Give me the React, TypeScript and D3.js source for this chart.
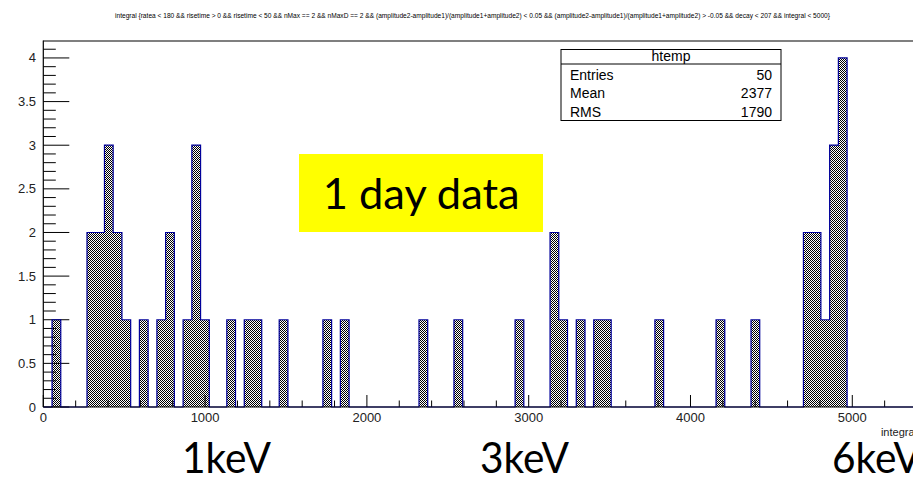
import React from "react";
import * as d3 from "d3";

// Histogram "htemp": lower edges of the filled bins and their contents
const binWidth = 54;
const binLow = [
  54, 270, 324, 378, 432, 486, 594, 702, 756, 864, 918, 972, 1134, 1242, 1296,
  1458, 1728, 1836, 2322, 2538, 2916, 3132, 3186, 3294, 3402, 3456, 3780, 4158,
  4374, 4698, 4752, 4806, 4860, 4914,
];
const binCount = [
  1, 2, 2, 3, 2, 1, 1, 1, 2, 1, 3, 1, 1, 1, 1, 1, 1, 1, 1, 1, 1, 2, 1, 1, 1, 1,
  1, 1, 1, 2, 2, 1, 3, 4,
];

const xDomain = [0, 5400];
const yDomain = [0, 4.2];
const xMajorTicks = [0, 1000, 2000, 3000, 4000, 5000];
const yMajorTicks = [0, 0.5, 1, 1.5, 2, 2.5, 3, 3.5, 4];

const statLabels = ["Entries", "Mean", "RMS"];
const statValues = ["50", "2377", "1790"];

const title =
  "integral {ratea < 180 && risetime > 0 && risetime < 50 && nMax == 2 && nMaxD == 2 && (amplitude2-amplitude1)/(amplitude1+amplitude2) < 0.05 && (amplitude2-amplitude1)/(amplitude1+amplitude2) > -0.05 && decay < 207 && integral < 5000}";

const energyLabels = ["1keV", "3keV", "6keV"];
const energyX = [182, 480, 832];

const W = 913;
const H = 477;
const AXIS_FONT = "'Liberation Sans', Arial, sans-serif";
const BIG_FONT = "Lato, 'Open Sans', sans-serif";

export default function App() {
  const x = d3.scaleLinear().domain(xDomain).range([43.3, 917]);
  const y = d3.scaleLinear().domain(yDomain).range([407, 40.5]);

  // full set of bins, empty ones included, so the outline runs along the baseline
  const nBins = Math.round((xDomain[1] - xDomain[0]) / binWidth);
  const counts = new Array(nBins).fill(0);
  binLow.forEach((lo, i) => {
    counts[Math.round((lo - xDomain[0]) / binWidth)] = binCount[i];
  });
  const pts: [number, number][] = [[xDomain[0], 0]];
  counts.forEach((c, i) => pts.push([xDomain[0] + i * binWidth, c]));
  pts.push([xDomain[1], 0]);

  const area = d3
    .area<[number, number]>()
    .x((d) => x(d[0]))
    .y0(y(0))
    .y1((d) => y(d[1]))
    .curve(d3.curveStepAfter);
  const line = d3
    .line<[number, number]>()
    .x((d) => x(d[0]))
    .y((d) => y(d[1]))
    .curve(d3.curveStepAfter);

  const xMinor = d3.range(0, xDomain[1] + 1, 200);
  const yMinor = d3.range(0, 42, 1).map((v) => v / 10);

  return (
    <div style={{ position: "fixed", left: 0, top: 0 }}>
      <svg width={W} height={H} style={{ display: "block", background: "#fff" }}>
        <defs>
          <pattern id="hfill" x={0} y={0} width={2} height={2} patternUnits="userSpaceOnUse">
            <path d="M0 0h1v1h-1zM1 1h1v1h-1z" fill="#000" shapeRendering="crispEdges" />
          </pattern>
        </defs>

        <text
          x={115}
          y={18}
          fontFamily={AXIS_FONT}
          fontSize={7}
          textLength={715}
          lengthAdjust="spacingAndGlyphs"
          fill="#000"
        >
          {title}
        </text>

        {/* frame */}
        <line x1={43.3} x2={W} y1={41} y2={41} stroke="#555" strokeWidth={1.6} />

        {/* axis ticks (under the histogram fill) */}
        <g stroke="#000" strokeWidth={1}>
          {xMinor.map((v) => {
            const major = v % 1000 === 0;
            return (
              <line
                key={"xt" + v}
                x1={x(v)}
                x2={x(v)}
                y1={407}
                y2={407 - (major ? 12 : 6.5)}
              />
            );
          })}
          {yMinor.map((v) => {
            const major = Math.abs(v * 2 - Math.round(v * 2)) < 1e-6;
            return (
              <line
                key={"yt" + v}
                x1={43.3}
                x2={43.3 + (major ? 26 : 12.5)}
                y1={y(v)}
                y2={y(v)}
              />
            );
          })}
        </g>

        {/* histogram */}
        <path d={area(pts) || ""} fill="url(#hfill)" shapeRendering="crispEdges" />
        <path d={line(pts) || ""} fill="none" stroke="#00009a" strokeWidth={1.2} />

        {/* axes */}
        <line x1={43.3} x2={W} y1={407} y2={407} stroke="#000" strokeWidth={1.2} />
        <line x1={43.3} x2={43.3} y1={40.5} y2={407} stroke="#000" strokeWidth={1.2} />

        <g fontFamily={AXIS_FONT} fontSize={13} fill="#222">
          {xMajorTicks.map((v) => (
            <text key={"xl" + v} x={x(v)} y={421.5} textAnchor="middle">
              {v}
            </text>
          ))}
          {yMajorTicks.map((v) => (
            <text key={"yl" + v} x={36} y={y(v) + 4.5} textAnchor="end">
              {v}
            </text>
          ))}
        </g>
        <text x={917} y={436} textAnchor="end" fontFamily={AXIS_FONT} fontSize={11} fill="#222">
          integral
        </text>

        {/* statistics box */}
        <g fontFamily={AXIS_FONT} fontSize={14} fill="#000">
          <rect x={561} y={49.5} width={220} height={71} fill="#fff" stroke="#000" strokeWidth={1} />
          <line x1={561} x2={781} y1={64} y2={64} stroke="#000" strokeWidth={1} />
          <text x={671} y={61} textAnchor="middle">
            htemp
          </text>
          {statLabels.map((s, i) => (
            <g key={s}>
              <text x={570} y={80 + i * 18.3}>
                {s}
              </text>
              <text x={772} y={80 + i * 18.3} textAnchor="end">
                {statValues[i]}
              </text>
            </g>
          ))}
        </g>

        {/* annotation */}
        <rect x={299} y={154} width={244} height={78} fill="#ffff00" />
        <text
          x={322.7}
          y={208.5}
          fontFamily={BIG_FONT}
          fontSize={42}
          textLength={197}
          lengthAdjust="spacingAndGlyphs"
          fill="#000"
        >
          1 day data
        </text>

        {energyLabels.map((s, i) => (
          <text
            key={s}
            x={energyX[i]}
            y={473}
            fontFamily={BIG_FONT}
            fontSize={42}
            textLength={89}
            lengthAdjust="spacingAndGlyphs"
            fill="#000"
          >
            {s}
          </text>
        ))}
      </svg>
    </div>
  );
}
